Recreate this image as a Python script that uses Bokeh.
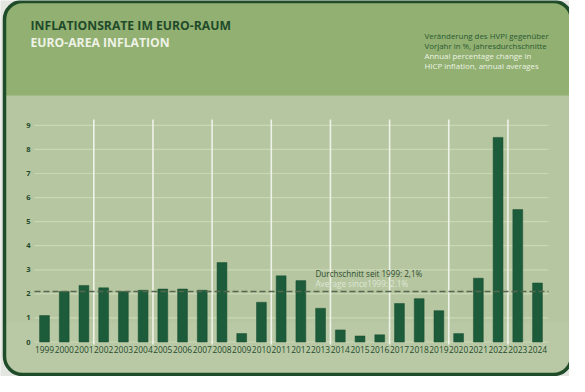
from bokeh.plotting import figure
from bokeh.models import Range1d, BoxAnnotation, ColumnDataSource
from bokeh.core.properties import value
from bokeh.embed import file_html
from bokeh.resources import INLINE

# ---- data ----
years = [1999, 2000, 2001, 2002, 2003, 2004, 2005, 2006, 2007, 2008, 2009, 2010, 2011,
         2012, 2013, 2014, 2015, 2016, 2017, 2018, 2019, 2020, 2021, 2022, 2023, 2024]
inflation = [1.1, 2.1, 2.35, 2.25, 2.1, 2.15, 2.2, 2.2, 2.15, 3.3, 0.35, 1.65, 2.75,
             2.55, 1.4, 0.5, 0.25, 0.3, 1.6, 1.8, 1.3, 0.35, 2.65, 8.5, 5.5, 2.45]
year_labels = [str(y) for y in years]
y_ticks = [0, 1, 2, 3, 4, 5, 6, 7, 8, 9]
y_tick_labels = [str(t) for t in y_ticks]
average = 2.1
divider_years = [2001.5, 2004.5, 2007.5, 2010.5, 2013.5, 2016.5, 2019.5, 2022.5]

title_de = "INFLATIONSRATE IM EURO-RAUM"
title_en = "EURO-AREA INFLATION"
note_lines = ["Veränderung des HVPI gegenüber", "Vorjahr in %, Jahresdurchschnitte",
              "Annual percentage change in", "HICP inflation, annual averages"]
avg_de = "Durchschnitt seit 1999: 2,1%"
avg_en = "Average since1999: 2.1%"

# ---- layout (page pixel geometry) ----
W, H = 569, 376
X0PAGE, XSTEP = 52.0, 19.72      # page x of first year, px per year
Y0PAGE, YSTEP = 349.5, 24.07     # page y of value 0, px per unit

def dx(px):   # page x -> data x
    return years[0] + (px - X0PAGE) / XSTEP

def dy(py):   # page y -> data y
    return (Y0PAGE - py) / YSTEP

p = figure(width=W, height=H, output_backend="svg", toolbar_location=None,
           x_range=Range1d(dx(8), dx(8 + W)), y_range=Range1d(dy(8 + H), dy(8)),
           min_border=0, min_border_left=0, min_border_right=0,
           min_border_top=0, min_border_bottom=0)
p.axis.visible = False
p.grid.visible = False
p.outline_line_color = None
p.background_fill_color = "#e4e6e1"
p.border_fill_color = "#e4e6e1"

# card body (lower panel colour)
p.add_layout(BoxAnnotation(left=dx(12), right=dx(579), top=dy(9), bottom=dy(382),
                           fill_color="#b6c6a0", fill_alpha=1, line_color=None,
                           border_radius=18, level="underlay"))
# slightly lighter area near the bottom
p.add_layout(BoxAnnotation(left=dx(12), right=dx(579), top=dy(330), bottom=dy(382),
                           fill_color="#c4d2b3", fill_alpha=0.3, line_color=None,
                           border_radius=(0, 0, 18, 18), level="underlay"))
# header band
p.add_layout(BoxAnnotation(left=dx(12), right=dx(579), top=dy(9), bottom=dy(103),
                           fill_color="#91b071", fill_alpha=1, line_color=None,
                           border_radius=(18, 18, 0, 0), level="underlay"))
# card outline
p.add_layout(BoxAnnotation(left=dx(12), right=dx(579), top=dy(9), bottom=dy(382),
                           fill_alpha=0, line_color="#1f4d29", line_alpha=1, line_width=3.5,
                           border_radius=18, level="underlay"))

# horizontal grid lines
p.segment(x0=[dx(42)] * len(y_ticks), x1=[dx(556)] * len(y_ticks), y0=y_ticks, y1=y_ticks,
          line_color="#cad7b6", line_width=1.2)

# vertical white dividers
p.segment(x0=divider_years, x1=divider_years, y0=[dy(352)] * len(divider_years),
          y1=[dy(127)] * len(divider_years), line_color="#f4f6ef", line_width=1.6, line_alpha=0.9)

# bars
src = ColumnDataSource(dict(year=years, val=inflation))
p.vbar(x="year", top="val", bottom=0, width=0.5, source=src,
       fill_color="#1c5c3a", line_color="#174d30", line_width=0.5)

# average line
p.segment(x0=[dx(42)], x1=[dx(556)], y0=[average], y1=[average],
          line_color="#55674f", line_width=1.5, line_dash="6 3")
p.text(x=[dx(323)], y=[dy(281)], text=[avg_de], text_font=value("Open Sans"),
       text_font_size="8.1px", text_color="#2e4d2e", text_baseline="middle", text_align="left")
p.text(x=[dx(323)], y=[dy(291)], text=[avg_en], text_font=value("Open Sans"),
       text_font_size="8.1px", text_color="#dfe6d6", text_baseline="middle", text_align="left")

# tick labels
p.text(x=years, y=[dy(357)] * len(years), text=year_labels, text_font=value("Open Sans"),
       text_font_size="8.4px", text_color="#244a2c", text_align="center", text_baseline="middle")
p.text(x=[dx(36)] * len(y_ticks), y=y_ticks, text=y_tick_labels, text_font=value("Open Sans"),
       text_font_size="7.5px", text_color="#244a2c", text_align="center", text_baseline="middle",
       text_font_style="bold")

# titles
p.text(x=[dx(38)], y=[dy(33)], text=[title_de], text_font=value("Open Sans"),
       text_font_size="12.2px", text_font_style="bold", text_color="#1f4a2a",
       text_baseline="middle")
p.text(x=[dx(38)], y=[dy(50)], text=[title_en], text_font=value("Open Sans"),
       text_font_size="12.2px", text_font_style="bold", text_color="#eef2e6",
       text_baseline="middle")

# note
note_colors = ["#2b5a33", "#2b5a33", "#eef3e4", "#eef3e4"]
note_y = [dy(43), dy(53), dy(63), dy(73)]
p.text(x=[dx(432)] * 4, y=note_y, text=note_lines, text_font=value("Open Sans"),
       text_font_size="7.9px", text_color=note_colors, text_baseline="middle")

open("out.html", "w").write(file_html(p, INLINE))
